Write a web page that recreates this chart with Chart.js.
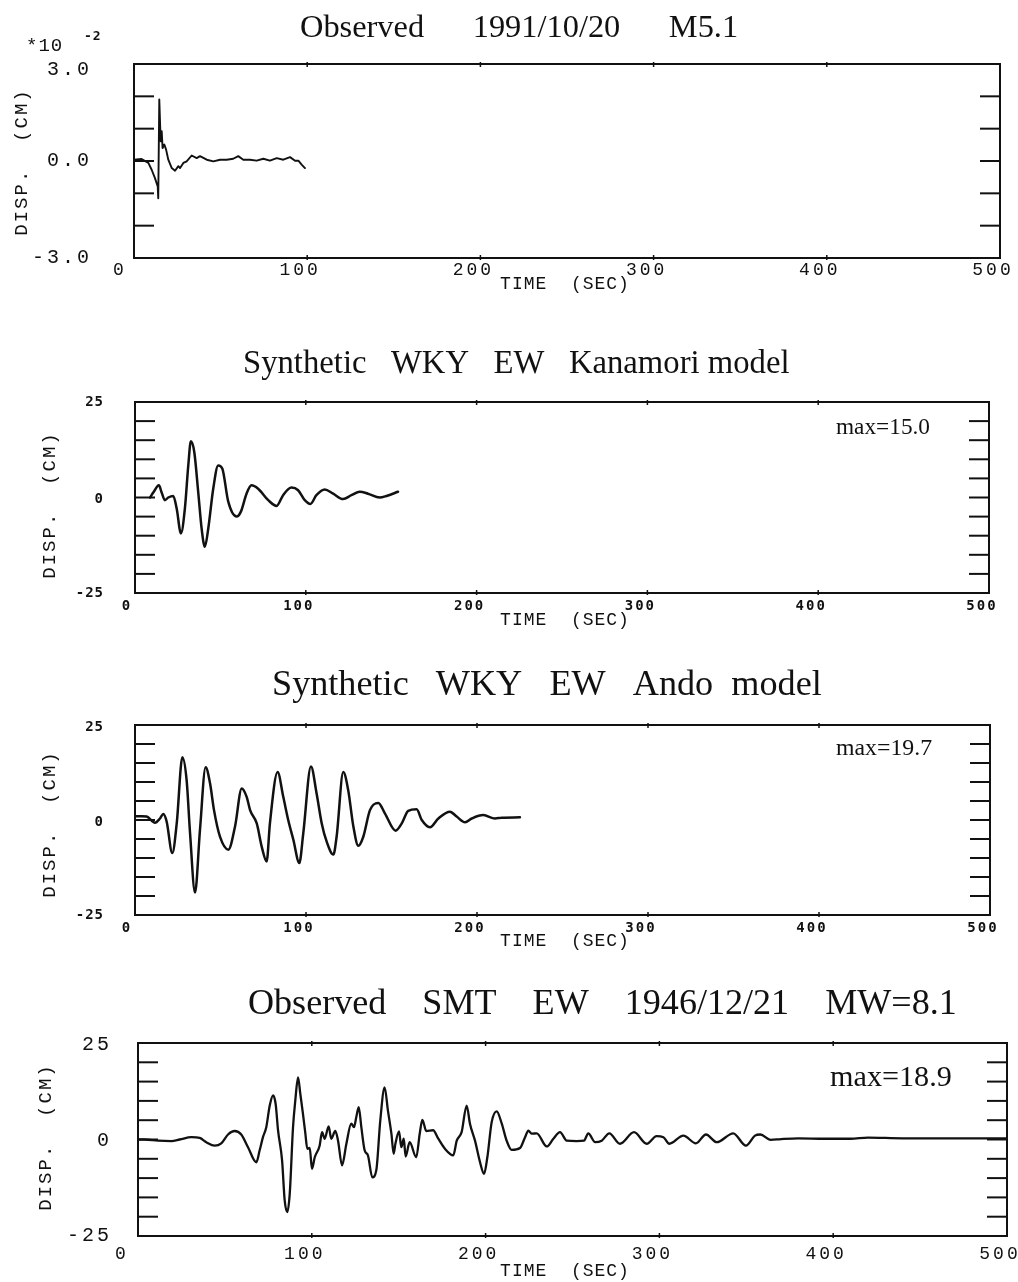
<!DOCTYPE html>
<html><head><meta charset="utf-8">
<script src="https://cdn.jsdelivr.net/npm/chart.js@4.4.1/dist/chart.umd.min.js"></script>
<style>
html,body{margin:0;padding:0;background:#fff;width:1018px;height:1282px;overflow:hidden}
canvas{position:absolute;left:0}
</style></head><body>
<canvas id="c1" width="1018" height="320" style="top:0px"></canvas>
<canvas id="c2" width="1018" height="320" style="top:320px"></canvas>
<canvas id="c3" width="1018" height="320" style="top:640px"></canvas>
<canvas id="c4" width="1018" height="322" style="top:960px"></canvas>
<script>
// ---------------- DATA ----------------
const xTickValues = [0, 100, 200, 300, 400, 500];
const xTickLabels = ['0', '100', '200', '300', '400', '500'];
const xAxisTitle = 'TIME  (SEC)';
const yAxisTitle = 'DISP.  (CM)';

// Panel 1: Observed 1991/10/20 M5.1 (units of 1e-2 cm)
const p1Title = 'Observed      1991/10/20      M5.1';
const p1Time = [0, 4.4, 8.3, 10.2, 12.1, 13.7, 14.0, 14.6, 15.4, 16.0, 16.5, 17.5, 18.5, 19.8, 21.8, 23.7, 25.6, 26.6, 28.5, 30.4, 33.3, 36.2, 38.1, 42, 45.8, 49.7, 53.5, 57.3, 60.2, 63.1, 67, 70.8, 74.7, 78.5, 82.4, 86.2, 90.1, 93, 94.9, 96.8, 98.7];
const p1Disp = [0.04, 0.06, -0.06, -0.27, -0.53, -0.79, -1.15, 1.9, 0.61, 0.92, 0.40, 0.51, 0.36, 0.04, -0.22, -0.30, -0.16, -0.22, -0.06, -0.01, 0.17, 0.09, 0.15, 0.04, -0.01, 0.04, 0.04, 0.07, 0.15, 0.04, 0.04, 0.01, 0.07, 0.01, 0.09, 0.04, 0.12, 0.01, 0.01, -0.11, -0.22];
const p1YTicks = [-2, -1, 0, 1, 2];
const p1YLabelValues = [3, 0, -3];
const p1YLabels = ['3.0', '0.0', '-3.0'];
const p1Scale = ['*10', '-2'];

// Panel 2: Synthetic WKY EW Kanamori model
const p2Title = 'Synthetic   WKY   EW   Kanamori model';
const p2Max = 'max=15.0';
const p2Time = [8.8, 10.7, 14, 15.6, 17.5, 19.5, 22.4, 24.4, 26.9, 29.2, 31.2, 32.7, 34.7, 37, 39, 40.9, 42.9, 45.8, 48.7, 51.1, 54.6, 59.5, 62, 65.3, 68.2, 72.1, 78, 82.9, 86.7, 91.6, 95.5, 99.4, 102.7, 106.2, 111.1, 116, 121.8, 126.7, 131.6, 136.4, 143.3, 147.2, 154];
const p2Disp = [0, 1.3, 3.2, 1.3, -0.7, 0, 0.4, -2.9, -9.4, -2.9, 8.4, 14.7, 11.9, 1.5, -8.1, -12.9, -8.1, 2.3, 8.4, 7.6, -1.1, -5.0, -3.7, 1.0, 3.2, 2.3, -0.7, -2.2, 0.6, 2.6, 1.9, -0.7, -1.7, 0.6, 2.1, 1.0, -0.4, 0.6, 1.5, 1.0, 0, 0.4, 1.5];

// Panel 3: Synthetic WKY EW Ando model
const p3Title = 'Synthetic   WKY   EW   Ando  model';
const p3Max = 'max=19.7';
const p3Time = [0, 3.9, 6.8, 11.7, 14.6, 16.6, 18.5, 21.8, 24.4, 27.7, 30.2, 32.2, 35.1, 38, 41.3, 43.9, 46.2, 49.7, 54.6, 58.5, 62.4, 65.3, 67.3, 71.2, 74.1, 77, 78.9, 83.4, 86.7, 89.6, 92.6, 96.1, 98.4, 102.9, 106.2, 109.2, 112.1, 116, 117.9, 121.8, 124.7, 127.7, 130.6, 133.5, 137.4, 142.3, 146.2, 152.4, 156, 159.8, 164.7, 167.7, 172.5, 177.4, 184.2, 188.1, 193, 196.9, 203.7, 210.5, 214.4, 225.1];
const p3Disp = [1.0, 1.0, 0.9, -0.7, 0.4, 1.6, -0.4, -8.7, -0.9, 16.5, 10.4, -3.5, -19.1, -2.6, 13.9, 9.6, 2.6, -4.4, -7.8, -1.7, 8.3, 6.1, 2.6, -0.9, -7.0, -10.9, -0.9, 12.6, 6.1, 0, -5.2, -11.3, -3.5, 14.1, 7.0, -0.9, -5.7, -9.1, -4.4, 12.6, 7.8, -1.7, -6.8, -4.4, 2.6, 4.5, 1.7, -2.8, -0.9, 2.4, 2.8, 0, -1.9, 0.4, 2.2, 0.9, -0.6, 0.4, 1.3, 0.4, 0.6, 0.7];

// Panel 4: Observed SMT EW 1946/12/21 MW=8.1
const p4Title = 'Observed    SMT    EW    1946/12/21    MW=8.1';
const p4Max = 'max=18.9';
const p4Time = [0, 3.8, 11.5, 19.2, 24, 30.7, 35.5, 39.3, 44.1, 47.9, 51.8, 55.6, 59.4, 63.3, 68.1, 70, 71.9, 73.8, 75.8, 77.7, 79.2, 80.6, 82.9, 84.4, 85.9, 87.3, 89.2, 90.5, 92.1, 93.4, 94.9, 96.3, 97.4, 98.8, 100.1, 101.7, 104.5, 105.9, 107.4, 109.7, 111.2, 113.5, 115.1, 117.4, 119.9, 122.7, 124.3, 125.6, 127, 128.5, 130.4, 132.3, 134.8, 137.1, 139.4, 141.9, 143.8, 145.8, 147.1, 148.1, 150.2, 151.5, 152.9, 154, 156.3, 160.1, 162.1, 163.6, 165.9, 169.8, 172.8, 176.6, 181.4, 183.4, 186.2, 189.1, 191, 193.9, 196.8, 199.1, 201, 203.5, 206.4, 209.3, 212.1, 215, 219.8, 222.7, 224.6, 226.5, 229.4, 235.2, 239, 242.8, 246.7, 252.4, 256.6, 259.1, 263, 266.8, 271.2, 277.3, 285.4, 292.7, 298.4, 302.3, 305.7, 313.8, 321, 326.8, 333, 342.5, 349.8, 355, 358, 364, 370, 380, 395, 410, 420, 440, 460, 480, 500];
const p4Disp = [0, 0, -0.3, -0.4, 0, 0.6, 0.4, -0.7, -1.6, -1.0, 1.3, 2.2, 1.3, -2.0, -5.9, -2.8, 0.6, 3.2, 8.8, 11.4, 9.2, 2.3, -5.4, -15.8, -18.8, -14.1, 3.2, 10.1, 16.1, 11.8, 6.7, 1.5, -2.4, -2.2, -7.6, -4.6, -1.6, 1.9, 0.2, 3.4, 0.2, 2.2, -0.3, -6.7, -1.1, 4.1, 3.2, 5.8, 8.4, 3.2, -2.8, -4.1, -9.8, -8.0, 4.9, 13.5, 7.5, 1.5, -3.7, -1.1, 2.1, -2.0, 0.2, -4.4, -0.7, -4.6, 1.5, 5.1, 2.2, 2.4, 0.2, -2.4, -4.1, -0.3, 1.9, 8.8, 4.1, -0.3, -5.9, -8.9, -4.6, 4.5, 7.3, 4.1, -0.3, -2.7, -2.2, 0.6, 2.3, 1.5, 1.6, -1.8, 0.2, 1.9, -0.3, -0.4, -0.3, 1.6, -0.7, -0.3, 1.6, -1.1, 1.9, -1.1, 0.9, 0.6, -1.1, 1.0, -1.0, 1.3, -0.7, 1.6, -1.6, 1.0, 1.3, -0.1, 0.1, 0.3, 0.2, 0.2, 0.5, 0.3, 0.3, 0.3, 0.3];

const bigYTicks = [-20, -15, -10, -5, 0, 5, 10, 15, 20];
const bigYLabelValues = [25, 0, -25];
const bigYLabels = ['25', '0', '-25'];

// ---------------- LAYOUT / STYLE ----------------
const thinFont = '18px "Liberation Mono", monospace';
const boldFont = 'bold 14px "DejaVu Sans Mono", monospace';
const serif = '"Liberation Serif", "Times New Roman", serif';

const panels = [
  { id: 'c1', top: 0, height: 320, area: { left: 134, right: 1000, top: 64, bottom: 258 },
    ymin: -3, ymax: 3, time: p1Time, disp: p1Disp, yTicks: p1YTicks, yLabVals: p1YLabelValues, yLabs: p1YLabels,
    smooth: false, lw: 1.9,
    title: { text: p1Title, x0: 300, x1: 738, y: 28 },
    yLabStyle: { font: '20px "Liberation Mono", monospace', spacing: '3px', right: 92, dys: [6, 0, 0] },
    xLabStyle: { font: thinFont, spacing: '3px', dy: 12, zeroX: 120 },
    xTitle: { x: 565, dy: 26 }, yTitle: { x: 22, y: 162 }, scaleNote: true },
  { id: 'c2', top: 320, height: 320, area: { left: 135, right: 989, top: 402, bottom: 593 },
    ymin: -25, ymax: 25, time: p2Time, disp: p2Disp, yTicks: bigYTicks, yLabVals: bigYLabelValues, yLabs: bigYLabels,
    smooth: true, lw: 2.5,
    title: { text: p2Title, x0: 243, x1: 790, y: 364 },
    max: { text: p2Max, x0: 836, x1: 930, y: 428 },
    yLabStyle: { font: boldFont, spacing: '1px', right: 104, dys: [0, 2, 0] },
    xLabStyle: { font: boldFont, spacing: '2px', dy: 13, zeroX: 127 },
    xTitle: { x: 565, dy: 27 }, yTitle: { x: 50, y: 505 } },
  { id: 'c3', top: 640, height: 320, area: { left: 135, right: 990, top: 725, bottom: 915 },
    ymin: -25, ymax: 25, time: p3Time, disp: p3Disp, yTicks: bigYTicks, yLabVals: bigYLabelValues, yLabs: bigYLabels,
    smooth: true, lw: 2.5,
    title: { text: p3Title, x0: 272, x1: 822, y: 685 },
    max: { text: p3Max, x0: 836, x1: 932, y: 749 },
    yLabStyle: { font: boldFont, spacing: '1px', right: 104, dys: [2, 2, 0] },
    xLabStyle: { font: boldFont, spacing: '2px', dy: 13, zeroX: 127 },
    xTitle: { x: 565, dy: 26 }, yTitle: { x: 50, y: 824 } },
  { id: 'c4', top: 960, height: 322, area: { left: 138, right: 1007, top: 1043, bottom: 1236 },
    ymin: -25, ymax: 25, time: p4Time, disp: p4Disp, yTicks: bigYTicks, yLabVals: bigYLabelValues, yLabs: bigYLabels,
    smooth: true, lw: 2.3,
    title: { text: p4Title, x0: 248, x1: 958, y: 1005 },
    max: { text: p4Max, x0: 830, x1: 952, y: 1078 },
    yLabStyle: { font: '20px "Liberation Mono", monospace', spacing: '3px', right: 112, dys: [2, 1, 0] },
    xLabStyle: { font: thinFont, spacing: '3px', dy: 18, zeroX: 122 },
    xTitle: { x: 565, dy: 35 }, yTitle: { x: 46, y: 1137 } }
];

function line(ctx, x1, y1, x2, y2) { ctx.beginPath(); ctx.moveTo(x1, y1); ctx.lineTo(x2, y2); ctx.stroke(); }
function setSpacing(ctx, s) { try { ctx.letterSpacing = s; } catch (e) {} }
function fitText(ctx, text, x0, x1, y) {
  ctx.font = '30px ' + serif;
  const w = ctx.measureText(text).width;
  const size = Math.max(10, Math.min(44, 30 * (x1 - x0) / w));
  ctx.font = size.toFixed(1) + 'px ' + serif;
  ctx.textAlign = 'left';
  ctx.fillText(text, x0, y);
}

const decor = {
  id: 'decor',
  afterDatasetsDraw(chart, args, opts) {
    const P = opts.panel;
    const ctx = chart.ctx, a = chart.chartArea, xs = chart.scales.x, ys = chart.scales.y;
    const off = P.top;
    ctx.save();
    ctx.strokeStyle = '#111'; ctx.fillStyle = '#111';
    ctx.lineWidth = 2;
    ctx.strokeRect(a.left, a.top, a.right - a.left, a.bottom - a.top);
    P.yTicks.forEach(v => {
      const y = ys.getPixelForValue(v);
      line(ctx, a.left, y, a.left + 20, y);
      line(ctx, a.right - 20, y, a.right, y);
    });
    ctx.lineWidth = 1.5;
    xTickValues.forEach(v => {
      if (v === 0 || v === 500) return;
      const x = xs.getPixelForValue(v);
      line(ctx, x, a.top - 2, x, a.top + 3);
      line(ctx, x, a.bottom - 3, x, a.bottom + 2);
    });
    ctx.textBaseline = 'middle'; ctx.textAlign = 'right';
    ctx.font = P.yLabStyle.font; setSpacing(ctx, P.yLabStyle.spacing);
    P.yLabVals.forEach((v, i) => {
      ctx.fillText(P.yLabs[i], P.yLabStyle.right, ys.getPixelForValue(v) + P.yLabStyle.dys[i]);
    });
    ctx.font = P.xLabStyle.font; setSpacing(ctx, P.xLabStyle.spacing);
    ctx.textAlign = 'center';
    xTickValues.forEach((v, i) => {
      const x = v === 0 ? P.xLabStyle.zeroX : xs.getPixelForValue(v) - 7;
      ctx.fillText(xTickLabels[i], x, a.bottom + P.xLabStyle.dy);
    });
    ctx.font = '18px "Liberation Mono", monospace'; setSpacing(ctx, '1px');
    ctx.fillText(xAxisTitle, P.xTitle.x, a.bottom + P.xTitle.dy);
    ctx.save();
    ctx.translate(P.yTitle.x, P.yTitle.y - off);
    ctx.rotate(-Math.PI / 2);
    ctx.font = '19px "Liberation Mono", monospace'; setSpacing(ctx, '2px');
    ctx.fillText(yAxisTitle, 0, 0);
    ctx.restore();
    setSpacing(ctx, '0px');
    fitText(ctx, P.title.text, P.title.x0, P.title.x1, P.title.y - off);
    if (P.max) fitText(ctx, P.max.text, P.max.x0, P.max.x1, P.max.y - off);
    if (P.scaleNote) {
      ctx.textAlign = 'left';
      ctx.font = '19px "Liberation Mono", monospace'; setSpacing(ctx, '1px');
      ctx.fillText(p1Scale[0], 26, 46);
      ctx.font = 'bold 13px "DejaVu Sans Mono", monospace';
      ctx.fillText(p1Scale[1], 84, 37);
    }
    ctx.restore();
  }
};

panels.forEach(P => {
  const canvas = document.getElementById(P.id);
  const W = 1018, H = P.height;
  const pts = P.time.map((t, i) => ({ x: t, y: P.disp[i] }));
  new Chart(canvas.getContext('2d'), {
    type: 'line',
    data: { datasets: [{
      data: pts, borderColor: '#111', borderWidth: P.lw, pointRadius: 0, fill: false,
      tension: P.smooth ? 0.4 : 0, cubicInterpolationMode: P.smooth ? 'monotone' : 'default',
      borderJoinStyle: 'round', borderCapStyle: 'round'
    }] },
    options: {
      responsive: false, animation: false, devicePixelRatio: 1,
      layout: { padding: { left: P.area.left, right: W - P.area.right, top: P.area.top - P.top, bottom: P.top + H - P.area.bottom } },
      scales: {
        x: { type: 'linear', min: 0, max: 500, display: false },
        y: { type: 'linear', min: P.ymin, max: P.ymax, display: false }
      },
      plugins: { legend: { display: false }, tooltip: { enabled: false }, title: { display: false }, decor: { panel: P } }
    },
    plugins: [decor]
  });
});
</script>
</body></html>
